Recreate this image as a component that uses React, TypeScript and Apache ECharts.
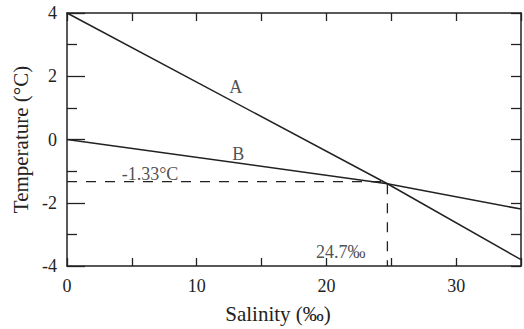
import React, { useEffect, useRef } from "react";
import * as echarts from "echarts";

const lineA: [number, number][] = [[0, 4], [24.7, -1.4], [35, -3.8]];
const lineB: [number, number][] = [[0, 0], [24.7, -1.4], [35, -2.2]];
const guide: [number, number][] = [[0, -1.33], [24.7, -1.33], [24.7, -4]];
const xTickLabels = ["0", "10", "20", "30"];
const yTickLabels = ["-4", "-2", "0", "2", "4"];
const labelA: [number, number] = [13, 1.65];
const labelB: [number, number] = [13.2, -0.45];

const FONT = "'Liberation Serif', 'Times New Roman', serif";
const INK = "#222";

export default function App() {
  const ref = useRef<HTMLDivElement>(null);
  useEffect(() => {
    if (!ref.current) return;
    const chart = echarts.init(ref.current, null, { renderer: "svg" });
    const axisLine = { show: true, onZero: false, lineStyle: { color: INK, width: 1.5 } };
    chart.setOption({
      animation: false,
      backgroundColor: "#fff",
      textStyle: { fontFamily: FONT },
      grid: { left: 67, right: 1, top: 13, bottom: 61 },
      xAxis: [
        {
          type: "value", min: 0, max: 35, interval: 10,
          axisLine,
          axisTick: { show: true, inside: true, length: 8, lineStyle: { color: INK, width: 1.3 } },
          minorTick: { show: true, splitNumber: 2, length: 8, lineStyle: { color: INK, width: 1.3 } },
          splitLine: { show: false },
          axisLabel: {
            color: INK, fontFamily: FONT, fontSize: 18, margin: 11,
            formatter: (v: number) => (xTickLabels.includes(String(v)) ? String(v) : ""),
          },
          name: "Salinity (‰)", nameLocation: "middle", nameGap: 37,
          nameTextStyle: { color: INK, fontFamily: FONT, fontSize: 21, padding: [0, 32, 0, 0] },
        },
        {
          type: "value", position: "top", min: 0, max: 35, interval: 5,
          axisLine,
          axisTick: { show: true, inside: true, length: 8, lineStyle: { color: INK, width: 1.3 } },
          axisLabel: { show: false }, splitLine: { show: false },
        },
      ],
      yAxis: [
        {
          type: "value", min: -4, max: 4, interval: 2,
          axisLine,
          axisTick: { show: true, inside: true, length: 18, lineStyle: { color: INK, width: 1.3 } },
          minorTick: { show: true, splitNumber: 2, length: 10, lineStyle: { color: INK, width: 1.3 } },
          splitLine: { show: false },
          axisLabel: {
            color: INK, fontFamily: FONT, fontSize: 18, margin: 10,
            formatter: (v: number) => (yTickLabels.includes(String(v)) ? String(v) : ""),
          },
          name: "Temperature (°C)", nameLocation: "middle", nameGap: 34,
          nameTextStyle: { color: INK, fontFamily: FONT, fontSize: 21 },
        },
        {
          type: "value", position: "right", min: -4, max: 4, interval: 1,
          axisLine,
          axisTick: { show: true, inside: true, length: 10, lineStyle: { color: INK, width: 1.3 } },
          axisLabel: { show: false }, splitLine: { show: false },
        },
      ],
      series: [
        {
          type: "line", data: lineA, symbol: "none",
          lineStyle: { color: INK, width: 1.5 },
        },
        {
          type: "line", data: lineB, symbol: "none",
          lineStyle: { color: INK, width: 1.5 },
        },
        {
          type: "line", data: guide, symbol: "none",
          lineStyle: { color: INK, width: 1.3, type: [10, 9] },
        },
        {
          type: "scatter", symbolSize: 0,
          data: [
            { value: labelA, label: { show: true, formatter: "A", position: "inside" } },
            { value: labelB, label: { show: true, formatter: "B", position: "inside" } },
            { value: [6.4, -1.1], label: { show: true, formatter: "-1.33°C", position: "inside" } },
            { value: [21.1, -3.55], label: { show: true, formatter: "24.7‰", position: "inside" } },
          ],
          label: { color: INK, fontFamily: FONT, fontSize: 18 },
        },
      ],
    });
    return () => chart.dispose();
  }, []);
  return <div ref={ref} style={{ width: 524, height: 329, position: "absolute", left: 0, top: 0 }} />;
}
